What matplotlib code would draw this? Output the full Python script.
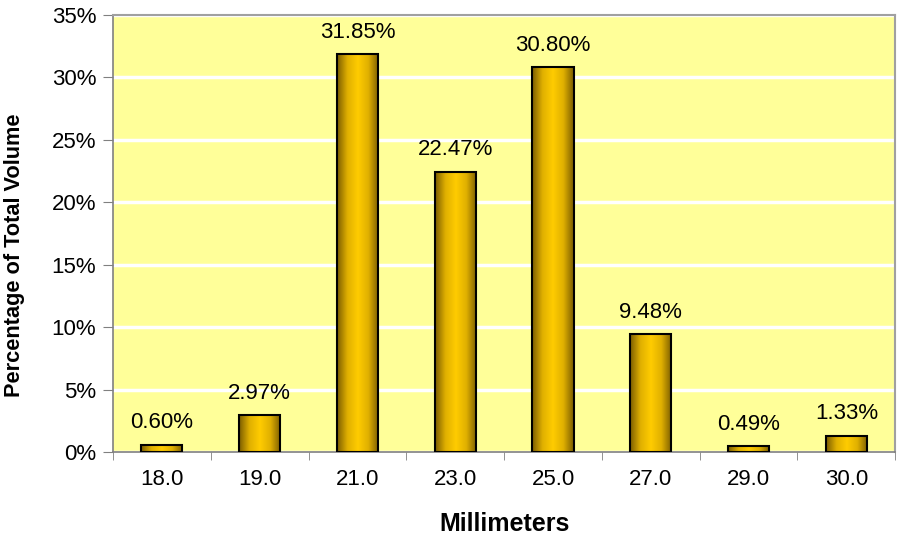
import numpy as np
import matplotlib.pyplot as plt
from matplotlib.colors import LinearSegmentedColormap
from matplotlib.ticker import FuncFormatter

plt.rcParams['font.family'] = ['Liberation Sans', 'DejaVu Sans']

categories = ['18.0', '19.0', '21.0', '23.0', '25.0', '27.0', '29.0', '30.0']
values = [0.60, 2.97, 31.85, 22.47, 30.80, 9.48, 0.49, 1.33]

fig = plt.figure(figsize=(8.97, 5.37), dpi=100)
ax = fig.add_axes([0.126, 0.158, 0.872, 0.814])
ax.set_facecolor('#FFFF99')

x = np.arange(len(categories))
width = 0.42

cmap = LinearSegmentedColormap.from_list('gold', ['#7A5C00', '#E0B000', '#FFCC00', '#E0B000', '#7A5C00'])
grad = np.linspace(0, 1, 256).reshape(1, -1)

bars = ax.bar(x, values, width=width, facecolor='none', edgecolor='black', linewidth=1.5, zorder=3)
for b in bars:
    x0, y0 = b.get_x(), b.get_y()
    ax.imshow(grad, cmap=cmap, aspect='auto', extent=[x0, x0 + b.get_width(), y0, y0 + b.get_height()],
              zorder=2, interpolation='bicubic')

for xi, v in zip(x, values):
    ax.text(xi, v + 0.9, f'{v:.2f}%', ha='center', va='bottom', fontsize=16, zorder=4)

ax.set_xlim(-0.5, len(categories) - 0.5)
ax.set_ylim(0, 35)
ax.set_yticks(np.arange(0, 36, 5))
ax.yaxis.set_major_formatter(FuncFormatter(lambda v, p: f'{v:.0f}%'))
ax.set_xticks(x)
ax.set_xticklabels(categories)
ax.set_xticks(np.arange(-0.5, len(categories), 1), minor=True)
ax.tick_params(axis='x', which='major', length=0, pad=12, labelsize=16)
ax.tick_params(axis='x', which='minor', length=6, direction='out', color='#808080')
ax.tick_params(axis='y', length=7, direction='out', labelsize=16, color='#808080', pad=5)

ax.yaxis.grid(True, color='white', linewidth=2.5, zorder=0)
ax.set_axisbelow(True)

for s in ['top', 'right']:
    ax.spines[s].set_color('#A0A0A0')
    ax.spines[s].set_linewidth(1.5)
for s in ['left', 'bottom']:
    ax.spines[s].set_color('#808080')
    ax.spines[s].set_linewidth(1.2)

ax.set_xlabel('Millimeters', fontsize=18, fontweight='bold', labelpad=16)
ax.set_ylabel('Percentage of Total Volume', fontsize=15.7, fontweight='bold')
ax.yaxis.set_label_coords(-0.112, 0.45)

fig.savefig('out.png', dpi=100)
